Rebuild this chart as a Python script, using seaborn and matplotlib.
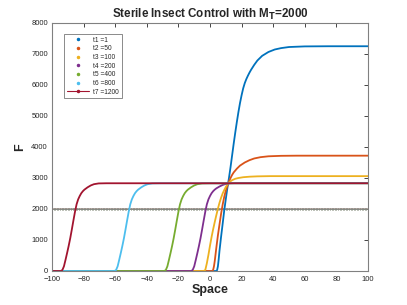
import numpy as np
import pandas as pd
import matplotlib
matplotlib.use("Agg")
import matplotlib.pyplot as plt
import seaborn as sns
from matplotlib.lines import Line2D

# ---- data ----
labels = ["t1 =1", "t2 =50", "t3 =100", "t4 =200", "t5 =400", "t6 =800", "t7 =1200"]
colors = ["#0072BD", "#D95319", "#EDB120", "#7E2F8E", "#77AC30", "#4DBEEE", "#A2142F"]
MT = 2000

x_t1 = [-100, 4, 4.5, 5, 5.5, 6, 7, 8, 9, 10, 11, 12, 13, 14, 15, 16, 17, 18, 19, 20, 21, 22, 23, 24, 25, 26, 28, 30, 33, 37, 41, 45, 50, 60, 75, 100]
y_t1 = [0, 0, 30, 150, 380, 650, 1100, 1520, 1950, 2320, 2680, 3000, 3350, 3730, 4110, 4470, 4810, 5130, 5420, 5670, 5890, 6060, 6190, 6300, 6400, 6490, 6650, 6790, 6940, 7065, 7145, 7190, 7225, 7245, 7250, 7250]

x_t2 = [-100, 1.5, 2, 2.5, 3, 4, 5, 6, 7, 8, 9, 10, 11, 12, 13, 14, 15, 17, 19, 22, 25, 28, 32, 37, 45, 55, 100]
y_t2 = [0, 0, 40, 150, 320, 750, 1150, 1500, 1840, 2140, 2390, 2590, 2750, 2885, 3000, 3100, 3180, 3300, 3400, 3500, 3575, 3630, 3672, 3700, 3715, 3720, 3720]

x_t3 = [-100, -4, -3, -2, -1, 0, 1, 2, 3, 4, 5, 6, 7, 8, 9, 10, 11, 12, 13, 14, 16, 18, 21, 25, 30, 38, 100]
y_t3 = [0, 0, 30, 250, 520, 820, 1100, 1350, 1580, 1800, 2010, 2200, 2360, 2500, 2610, 2710, 2790, 2850, 2895, 2930, 2975, 3000, 3025, 3042, 3053, 3060, 3060]

x_t4 = [-100, -12, -11, -10, -9, -8, -7, -6, -5, -4, -3, -2, -1, 0, 1, 2, 3, 4, 6, 8, 10, 13, 18, 100]
y_t4 = [0, 0, 30, 150, 360, 580, 810, 1060, 1340, 1630, 1910, 2150, 2310, 2420, 2510, 2575, 2625, 2665, 2725, 2775, 2810, 2832, 2840, 2840]

x_t5 = [-100, -29, -28, -27, -26, -25, -24, -23, -22, -21, -20, -19, -18, -17, -16, -15, -14, -12, -10, -8, -5, 0, 100]
y_t5 = [0, 0, 30, 150, 360, 580, 810, 1060, 1340, 1630, 1910, 2150, 2310, 2420, 2510, 2575, 2625, 2700, 2760, 2800, 2825, 2830, 2830]

x_t6 = [-100, -60.5, -59.5, -58.5, -57.5, -56.5, -55.5, -54.5, -53.5, -52.5, -51.5, -50.5, -49.5, -48.5, -47.5, -46.5, -45.5, -43.5, -41.5, -39.5, -36.5, -31.5, 100]
y_t6 = [0, 0, 30, 150, 360, 580, 810, 1060, 1340, 1630, 1910, 2150, 2310, 2420, 2510, 2575, 2625, 2700, 2760, 2800, 2825, 2830, 2830]

x_t7 = [-100, -94.5, -93.5, -92.5, -91.5, -90.5, -89.5, -88.5, -87.5, -86.5, -85.5, -84.5, -83.5, -82.5, -81.5, -80.5, -79.5, -77.5, -75.5, -73.5, -70.5, -65.5, 100]
y_t7 = [0, 0, 30, 150, 360, 580, 810, 1060, 1340, 1630, 1910, 2150, 2310, 2420, 2510, 2575, 2625, 2700, 2760, 2800, 2825, 2830, 2830]

xs = [x_t1, x_t2, x_t3, x_t4, x_t5, x_t6, x_t7]
ys = [y_t1, y_t2, y_t3, y_t4, y_t5, y_t6, y_t7]

x_ticks = [-100, -80, -60, -40, -20, 0, 20, 40, 60, 80, 100]
y_ticks = [0, 1000, 2000, 3000, 4000, 5000, 6000, 7000, 8000]

# ---- build table ----
frames = []
for lab, xv, yv in zip(labels, xs, ys):
    frames.append(pd.DataFrame({"Space": xv, "F": yv, "series": lab}))
df = pd.concat(frames, ignore_index=True)

grid = np.linspace(-100, 100, 201)
mt_df = pd.concat([pd.DataFrame({"Space": grid, "F": MT, "series": lab}) for lab in labels],
                  ignore_index=True)

sns.set_style("white")
plt.rcParams["font.family"] = ["Liberation Sans", "DejaVu Sans"]

fig = plt.figure(figsize=(4.07, 3.05), dpi=100)
ax = fig.add_axes([0.128, 0.1115, 0.776, 0.8131])

palette = dict(zip(labels, colors))

# horizontal M_T reference (dotted colored markers + a line for the last)
for lab in labels:
    sub = mt_df[mt_df["series"] == lab]
    if lab == labels[-1]:
        sns.lineplot(data=sub, x="Space", y="F", ax=ax, color="#8c807a", lw=1.3,
                     alpha=0.75, estimator=None, sort=False, legend=False)
    else:
        sns.scatterplot(data=sub, x="Space", y="F", ax=ax, color=palette[lab], s=1.3,
                        linewidth=0, alpha=0.45, legend=False)

sns.lineplot(data=df, x="Space", y="F", hue="series", palette=palette, ax=ax,
             lw=1.3, estimator=None, sort=False, legend=False)

ax.set_xlim(-100, 100)
ax.set_ylim(0, 8000)
ax.set_xticks(x_ticks)
ax.set_yticks(y_ticks)
ax.tick_params(direction="in", length=3, width=0.6, labelsize=5.5, colors="#262626",
               top=True, right=True)
ax.tick_params(axis="x", pad=3.5)
ax.tick_params(axis="y", pad=3)
for sp in ax.spines.values():
    sp.set_color("#808080")
    sp.set_linewidth(0.8)
    sp.set_visible(True)

ax.set_xlabel("Space", fontsize=9, fontweight="bold", color="#262626", labelpad=1)
ax.set_ylabel("F", fontsize=9, fontweight="bold", color="#262626", labelpad=4)
ax.set_title("Sterile Insect Control with M$_\\mathbf{T}$=2000", fontsize=8.4,
             fontweight="bold", color="#262626", pad=4)

handles = []
for i, lab in enumerate(labels):
    if i < len(labels) - 1:
        handles.append(Line2D([], [], ls="none", marker=".", markersize=3,
                              color=colors[i], label=lab))
    else:
        handles.append(Line2D([], [], ls="-", lw=0.8, marker=".", markersize=3,
                              color=colors[i], label=lab))
leg = ax.legend(handles=handles, loc="upper left", bbox_to_anchor=(0.038, 0.955),
                fontsize=4.8, frameon=True, fancybox=False, edgecolor="#555555",
                handlelength=3.3, handletextpad=0.7, labelspacing=0.25,
                borderpad=0.4, borderaxespad=0)
leg.get_frame().set_linewidth(0.6)

fig.savefig("out.png", dpi=100)
